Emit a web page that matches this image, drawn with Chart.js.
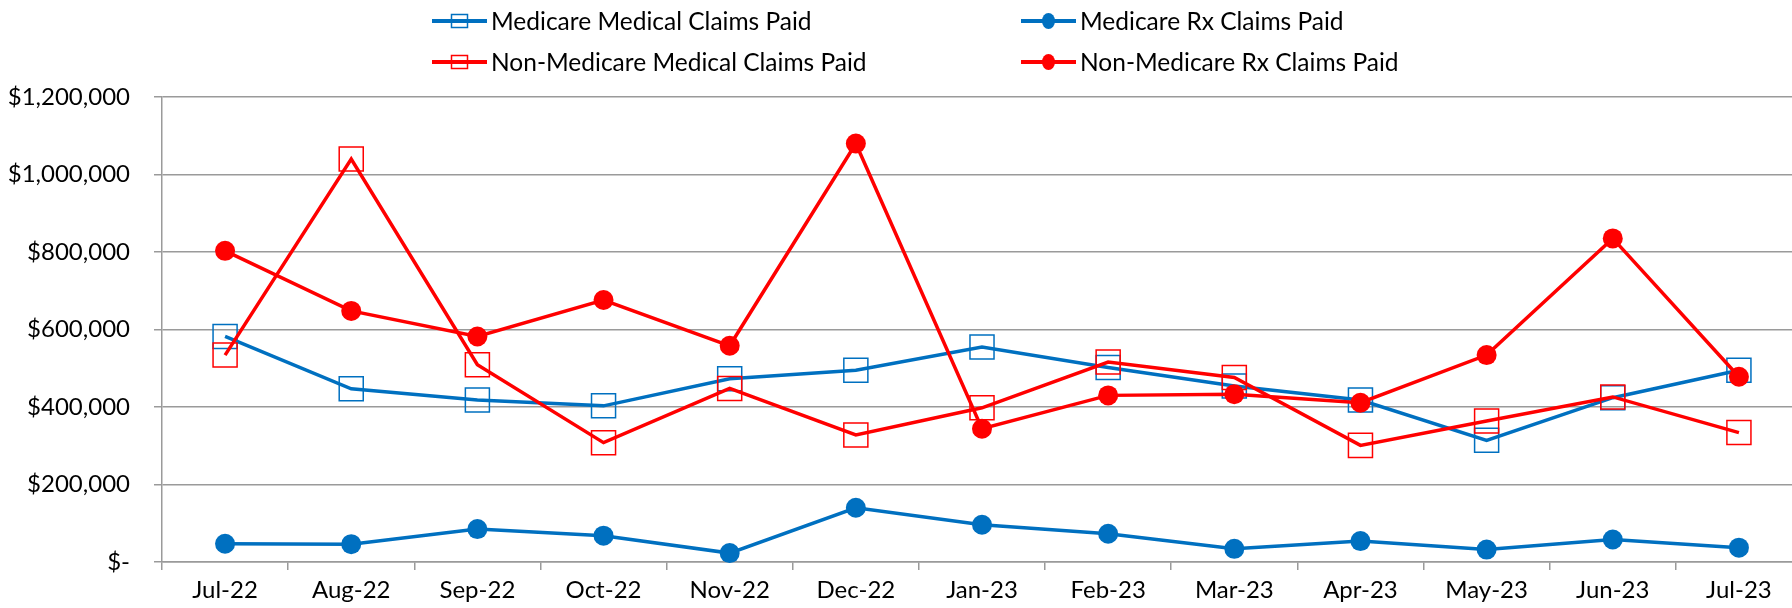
<!DOCTYPE html>
<html><head><meta charset="utf-8">
<script src="https://cdn.jsdelivr.net/npm/chart.js@4"></script>
<style>
html,body{margin:0;padding:0;background:#fff;overflow:hidden}
#wrap{width:1792px;height:608px;overflow:hidden;position:relative;background:#fff}
canvas{display:block}
</style></head><body>
<div id="wrap"><canvas id="c" width="1802" height="608"></canvas></div>
<script>
const categories = ['Jul-22','Aug-22','Sep-22','Oct-22','Nov-22','Dec-22','Jan-23','Feb-23','Mar-23','Apr-23','May-23','Jun-23','Jul-23'];
const seriesNames = ['Medicare Medical Claims Paid','Medicare Rx Claims Paid','Non-Medicare Medical Claims Paid','Non-Medicare Rx Claims Paid'];
const medicareMedical = [582000, 447000, 418000, 403000, 473000, 495000, 555000, 502000, 454000, 418000, 314000, 424000, 495000];
const medicareRx = [47000, 46000, 85000, 68000, 23000, 140000, 96000, 73000, 34000, 54000, 32000, 58000, 37000];
const nonMedicareMedical = [534000, 1040000, 509000, 308000, 448000, 328000, 398000, 516000, 476000, 301000, 364000, 426000, 334000];
const nonMedicareRx = [803000, 648000, 582000, 676000, 558000, 1080000, 344000, 430000, 433000, 411000, 534000, 835000, 478000];
const yTickValues = [0, 200000, 400000, 600000, 800000, 1000000, 1200000];
const yTickLabels = ['$-', '$200,000', '$400,000', '$600,000', '$800,000', '$1,000,000', '$1,200,000'];

const BLUE = '#0070C0', RED = '#FF0000', GRID = '#9a9a9a';
const FONT = 'Lato';

function mk(label, data, color, square, order) {
  return {
    label, data, order,
    borderColor: color,
    borderWidth: 3.5,
    tension: 0,
    fill: false,
    clip: false,
    pointStyle: square ? 'rect' : 'circle',
    pointRadius: square ? 17 : 10,
    pointHoverRadius: square ? 17 : 10,
    pointBorderWidth: square ? 1.5 : 0,
    pointBorderColor: color,
    pointBackgroundColor: square ? 'rgba(0,0,0,0)' : color,
    _square: square
  };
}

const legendSlots = [ {x:432,y:21}, {x:1021,y:21}, {x:432,y:62}, {x:1021,y:62} ];

const legendPlugin = {
  id: 'gridLegend',
  afterDraw(chart) {
    const ctx = chart.ctx;
    ctx.save();
    chart.data.datasets.forEach((ds, i) => {
      const s = legendSlots[i];
      ctx.strokeStyle = ds.borderColor;
      ctx.lineWidth = 4;
      ctx.beginPath(); ctx.moveTo(s.x, s.y); ctx.lineTo(s.x + 55, s.y); ctx.stroke();
      const cx = s.x + 27.5;
      if (ds._square) {
        ctx.lineWidth = 1.5;
        ctx.strokeRect(cx - 8, s.y - 6.5, 16, 13);
      } else {
        ctx.fillStyle = ds.borderColor;
        ctx.beginPath(); ctx.ellipse(cx, s.y, 6.5, 8, 0, 0, Math.PI*2); ctx.fill();
      }
      ctx.fillStyle = '#000';
      ctx.font = '24.5px ' + FONT;
      ctx.textBaseline = 'middle';
      ctx.textAlign = 'left';
      ctx.fillText(ds.label, s.x + 59, s.y + 1);
    });
    ctx.restore();
  }
};

new Chart(document.getElementById('c'), {
  type: 'line',
  data: {
    labels: categories,
    datasets: [
      mk(seriesNames[0], medicareMedical, BLUE, true, 3),
      mk(seriesNames[1], medicareRx, BLUE, false, 2),
      mk(seriesNames[2], nonMedicareMedical, RED, true, 1),
      mk(seriesNames[3], nonMedicareRx, RED, false, 0)
    ]
  },
  options: {
    responsive: false,
    animation: false,
    devicePixelRatio: 1,
    layout: { autoPadding: false, padding: { top: 97, left: 0, right: 0, bottom: 0 } },
    plugins: { legend: { display: false }, tooltip: { enabled: false }, title: { display: false } },
    scales: {
      x: {
        type: 'category',
        offset: true,
        grid: { offset: true, drawOnChartArea: false, drawTicks: true, tickLength: 8, color: GRID, lineWidth: 1.5 },
        border: { display: true, color: GRID, width: 1.5 },
        ticks: { color: '#000', font: { family: FONT, size: 24 }, padding: 6, maxRotation: 0, autoSkip: false },
        afterFit(scale) { scale.height = 46; }
      },
      y: {
        min: 0, max: 1200000,
        afterBuildTicks(scale) { scale.ticks = yTickValues.map(v => ({ value: v })); },
        grid: { color: GRID, lineWidth: 1.5, drawTicks: true, tickLength: 8 },
        border: { display: true, color: GRID, width: 1.5 },
        ticks: {
          color: '#000', font: { family: FONT, size: 24 }, padding: 24,
          callback: (v) => { const k = yTickValues.indexOf(v); return k >= 0 ? yTickLabels[k] : ''; }
        },
        afterFit(scale) { scale.width = 162; }
      }
    }
  },
  plugins: [legendPlugin]
});
</script>
</body></html>
